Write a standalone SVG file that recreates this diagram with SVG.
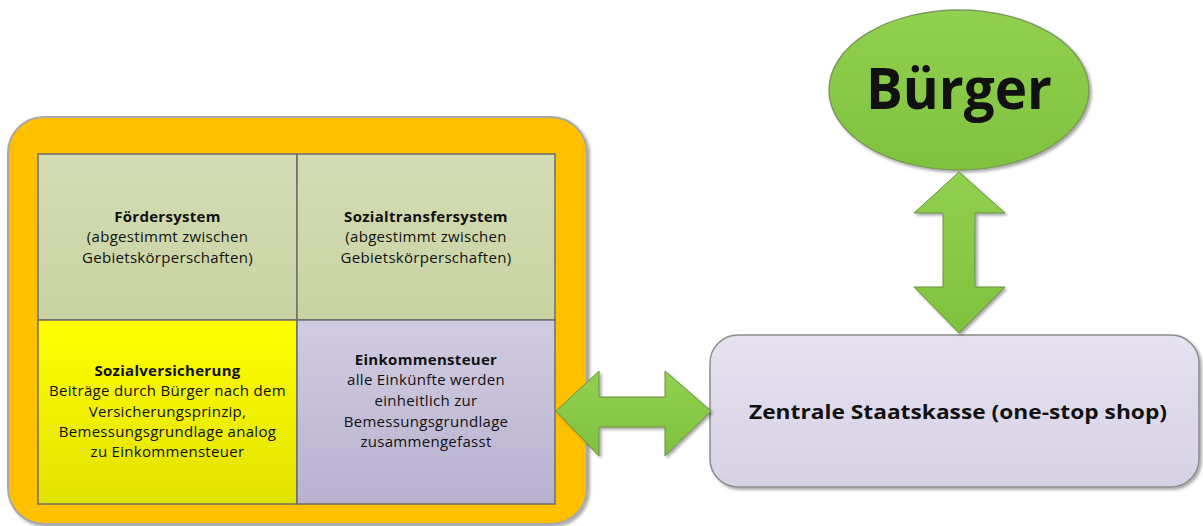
<svg xmlns="http://www.w3.org/2000/svg" width="1203" height="526" viewBox="0 0 1203 526">
<defs>
<linearGradient id="gTop" x1="0" y1="0" x2="0" y2="1"><stop offset="0" stop-color="#d4dcb5"/><stop offset="1" stop-color="#c8d3a1"/></linearGradient>
<linearGradient id="gYel" x1="0" y1="0" x2="0" y2="1"><stop offset="0" stop-color="#ffff00"/><stop offset="1" stop-color="#e2e200"/></linearGradient>
<linearGradient id="gPur" x1="0" y1="0" x2="0" y2="1"><stop offset="0" stop-color="#d1cce1"/><stop offset="1" stop-color="#b9b1d0"/></linearGradient>
<linearGradient id="gBox" x1="0" y1="0" x2="0" y2="1"><stop offset="0" stop-color="#e6e2ef"/><stop offset="1" stop-color="#d7d1e5"/></linearGradient>
<linearGradient id="gGreen" x1="0" y1="0" x2="0" y2="1"><stop offset="0" stop-color="#92d050"/><stop offset="1" stop-color="#7fc23e"/></linearGradient>
<filter id="sh" x="-10%" y="-10%" width="120%" height="120%"><feDropShadow dx="2" dy="2" stdDeviation="1.5" flood-color="#000" flood-opacity="0.35"/></filter>
</defs>
<style>
text{font-family:"Open Sans","Liberation Sans",sans-serif;fill:#111;text-anchor:middle}
.t{font-size:15px;letter-spacing:0.3px}
.b{font-weight:bold}
.cell{stroke:#6e6e6e;stroke-width:1.5}
.arrow{fill:url(#gGreen);stroke:#6b8f45;stroke-width:1}
</style>
<g id="container">
<rect x="8" y="117" width="579" height="407" rx="36" fill="#ffc000" stroke="#a8a8a8" stroke-width="2" filter="url(#sh)"/>
</g>
<g id="foerdersystem">
<rect class="cell" x="38" y="154" width="259" height="166" fill="url(#gTop)"/>
<text class="t b" x="167.5" y="222">Fördersystem</text>
<text class="t" x="167.5" y="242">(abgestimmt zwischen</text>
<text class="t" x="167.5" y="263">Gebietskörperschaften)</text>
</g>
<g id="sozialtransfersystem">
<rect class="cell" x="297" y="154" width="258" height="166" fill="url(#gTop)"/>
<text class="t b" x="426" y="222">Sozialtransfersystem</text>
<text class="t" x="426" y="242">(abgestimmt zwischen</text>
<text class="t" x="426" y="263">Gebietskörperschaften)</text>
</g>
<g id="sozialversicherung">
<rect class="cell" x="38" y="320" width="259" height="184" fill="url(#gYel)"/>
<text class="t b" x="167.5" y="376">Sozialversicherung</text>
<text class="t" x="167.5" y="396">Beiträge durch Bürger nach dem</text>
<text class="t" x="167.5" y="417">Versicherungsprinzip,</text>
<text class="t" x="167.5" y="437">Bemessungsgrundlage analog</text>
<text class="t" x="167.5" y="457">zu Einkommensteuer</text>
</g>
<g id="einkommensteuer">
<rect class="cell" x="297" y="320" width="258" height="184" fill="url(#gPur)"/>
<text class="t b" x="426" y="365">Einkommensteuer</text>
<text class="t" x="426" y="385">alle Einkünfte werden</text>
<text class="t" x="426" y="406">einheitlich zur</text>
<text class="t" x="426" y="427">Bemessungsgrundlage</text>
<text class="t" x="426" y="447">zusammengefasst</text>
</g>
<g id="buerger">
<ellipse cx="959" cy="90" rx="130" ry="80" fill="url(#gGreen)" stroke="#7b9a5c" stroke-width="1.5" filter="url(#sh)"/>
<text class="b" x="959" y="109" font-size="58" textLength="186" lengthAdjust="spacingAndGlyphs">Bürger</text>
</g>
<g id="staatskasse">
<rect x="710" y="335" width="489" height="152" rx="28" fill="url(#gBox)" stroke="#8c8c8c" stroke-width="1.5" filter="url(#sh)"/>
<text class="b" x="958" y="419" font-size="19" textLength="418" lengthAdjust="spacingAndGlyphs">Zentrale Staatskasse (one-stop shop)</text>
</g>
<g id="connectors">
<polygon class="arrow" filter="url(#sh)" points="959,172 1005,213 975,213 975,287 1005,287 959,333 914,287 943,287 943,213 914,213"/>
<polygon class="arrow" filter="url(#sh)" points="556,411 599,371 599,397 665,397 665,371 711,411 665,456 665,427 599,427 599,456"/>
</g>
</svg>
